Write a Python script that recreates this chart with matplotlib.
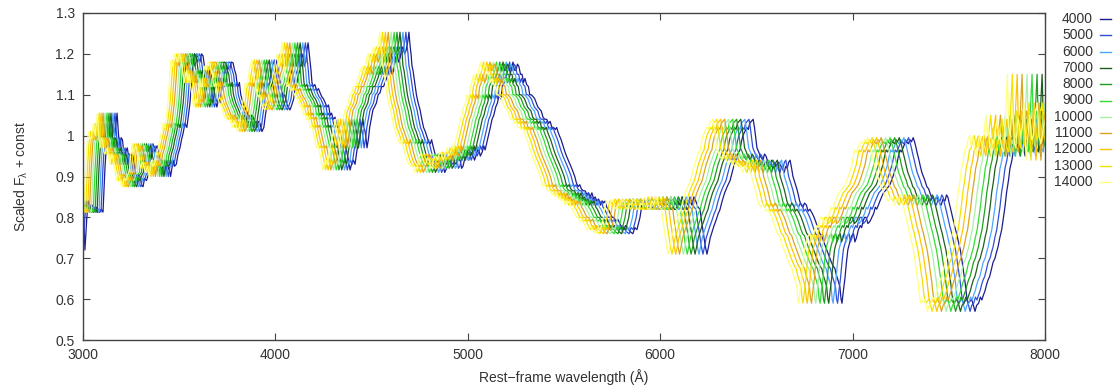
import numpy as np
import matplotlib
matplotlib.use("Agg")
import matplotlib.pyplot as plt
from matplotlib.lines import Line2D

plt.rcParams['font.family'] = ['Liberation Sans', 'DejaVu Sans']
plt.rcParams['mathtext.default'] = 'regular'

# Template spectrum (as drawn for the 4000 km/s curve)
template_wl = [
    3000, 3010, 3020, 3028, 3036, 3048, 3060, 3072, 3085, 3095,
    3104, 3114, 3122, 3130, 3138, 3145, 3156, 3165, 3177, 3185,
    3192, 3198, 3205, 3212, 3218, 3230, 3244, 3252, 3260, 3270,
    3280, 3288, 3296, 3304, 3312, 3320, 3330, 3340, 3348, 3356,
    3364, 3370, 3375, 3385, 3395, 3410, 3418, 3425, 3432, 3437,
    3446, 3455, 3462, 3468, 3476, 3485, 3494, 3504, 3512, 3520,
    3530, 3540, 3548, 3556, 3564, 3572, 3582, 3592, 3600, 3608,
    3616, 3624, 3634, 3644, 3650, 3657, 3663, 3670, 3678, 3685,
    3690, 3696, 3704, 3712, 3720, 3728, 3734, 3740, 3747, 3754,
    3762, 3770, 3780, 3788, 3795, 3800, 3806, 3813, 3820, 3826,
    3832, 3841, 3850, 3858, 3868, 3876, 3885, 3895, 3904, 3912,
    3920, 3930, 3940, 3948, 3955, 3963, 3972, 3980, 3990, 3998,
    4008, 4016, 4025, 4032, 4040, 4048, 4058, 4066, 4076, 4085,
    4095, 4103, 4112, 4120, 4128, 4136, 4144, 4150, 4158, 4164,
    4170, 4178, 4185, 4190, 4196, 4205, 4215, 4224, 4232, 4241,
    4250, 4259, 4268, 4276, 4285, 4292, 4300, 4310, 4320, 4328,
    4336, 4345, 4355, 4364, 4372, 4380, 4388, 4396, 4405, 4414,
    4424, 4432, 4440, 4448, 4455, 4460, 4466, 4472, 4476, 4483,
    4490, 4498, 4507, 4515, 4525, 4534, 4544, 4552, 4562, 4570,
    4580, 4590, 4600, 4607, 4615, 4624, 4632, 4640, 4648, 4656,
    4663, 4672, 4680, 4688, 4694, 4700, 4705, 4710, 4715, 4724,
    4733, 4742, 4752, 4761, 4770, 4779, 4788, 4796, 4805, 4812,
    4819, 4830, 4840, 4850, 4860, 4870, 4880, 4890, 4900, 4910,
    4920, 4930, 4940, 4950, 4960, 4968, 4975, 4985, 4995, 5005,
    5015, 5025, 5035, 5045, 5055, 5065, 5075, 5083, 5090, 5100,
    5108, 5117, 5126, 5135, 5145, 5154, 5163, 5172, 5180, 5189,
    5198, 5206, 5215, 5225, 5235, 5242, 5250, 5258, 5265, 5274,
    5282, 5290, 5297, 5306, 5315, 5322, 5330, 5340, 5348, 5356,
    5364, 5373, 5382, 5391, 5400, 5410, 5420, 5428, 5437, 5446,
    5455, 5462, 5468, 5476, 5485, 5495, 5505, 5513, 5522, 5531,
    5540, 5548, 5556, 5564, 5573, 5582, 5590, 5600, 5610, 5620,
    5628, 5636, 5645, 5654, 5662, 5671, 5680, 5690, 5700, 5706,
    5713, 5722, 5730, 5740, 5750, 5760, 5770, 5780, 5790, 5800,
    5810, 5820, 5830, 5844, 5858, 5868, 5879, 5887, 5895, 5903,
    5910, 5920, 5930, 5938, 5947, 5956, 5965, 5975, 5985, 5995,
    6005, 6015, 6025, 6035, 6045, 6055, 6065, 6075, 6085, 6095,
    6105, 6115, 6125, 6135, 6145, 6155, 6165, 6175, 6185, 6196,
    6207, 6215, 6225, 6234, 6243, 6252, 6260, 6270, 6280, 6288,
    6295, 6302, 6310, 6322, 6335, 6348, 6363, 6374, 6385, 6393,
    6400, 6408, 6415, 6422, 6430, 6440, 6450, 6458, 6465, 6474,
    6483, 6490, 6495, 6503, 6512, 6520, 6527, 6534, 6542, 6550,
    6560, 6570, 6580, 6590, 6600, 6610, 6616, 6623, 6634, 6645,
    6652, 6660, 6668, 6675, 6683, 6690, 6700, 6710, 6718, 6725,
    6733, 6742, 6750, 6760, 6769, 6778, 6790, 6800, 6808, 6815,
    6822, 6830, 6840, 6850, 6858, 6866, 6874, 6882, 6890, 6900,
    6908, 6915, 6925, 6934, 6940, 6945, 6952, 6960, 6968, 6975,
    6980, 6986, 6995, 7005, 7012, 7020, 7030, 7040, 7047, 7054,
    7062, 7070, 7080, 7090, 7100, 7110, 7118, 7125, 7134, 7142,
    7151, 7160, 7170, 7178, 7186, 7194, 7202, 7210, 7220, 7230,
    7238, 7246, 7254, 7262, 7271, 7280, 7290, 7298, 7306, 7315,
    7322, 7330, 7337, 7345, 7352, 7360, 7368, 7376, 7386, 7395,
    7402, 7410, 7420, 7428, 7436, 7445, 7452, 7460, 7470, 7480,
    7488, 7495, 7502, 7510, 7520, 7532, 7541, 7550, 7560, 7568,
    7576, 7585, 7592, 7600, 7610, 7618, 7628, 7636, 7645, 7655,
    7664, 7672, 7680, 7688, 7696, 7704, 7712, 7720, 7730, 7740,
    7748, 7756, 7765, 7775, 7784, 7792, 7800, 7810, 7818, 7828,
    7836, 7845, 7853, 7862, 7870, 7880, 7888, 7897, 7906, 7915,
    7924, 7932, 7940, 7950, 7957, 7963, 7970, 7978, 7984, 7990,
    8000, 8010, 8018, 8025, 8035, 8045, 8055, 8065, 8072, 8080,
    8088, 8095, 8103, 8110, 8118, 8125, 8135, 8145, 8155, 8165,
    8175, 8185, 8195, 8205, 8215, 8225, 8235, 8245, 8258, 8270,
]
template_flux = [
    0.86, 0.72, 0.80, 0.84, 0.826, 0.83, 0.815, 0.825, 0.812, 0.82,
    0.813, 0.92, 0.98, 1.01, 0.99, 0.995, 1.03, 1.00, 1.055, 1.00,
    0.97, 0.995, 0.99, 0.96, 0.955, 0.97, 0.93, 0.955, 0.95, 0.92,
    0.89, 0.905, 0.90, 0.88, 0.875, 0.895, 0.89, 0.905, 0.91, 0.95,
    0.98, 0.96, 0.965, 0.975, 0.95, 0.92, 0.935, 0.93, 0.915, 0.91,
    0.925, 0.90, 0.92, 0.94, 0.925, 0.93, 0.955, 0.97, 0.99, 1.005,
    1.03, 1.02, 1.05, 1.08, 1.13, 1.185, 1.17, 1.20, 1.19, 1.18,
    1.20, 1.195, 1.16, 1.13, 1.15, 1.16, 1.13, 1.15, 1.12, 1.10,
    1.08, 1.07, 1.09, 1.08, 1.11, 1.14, 1.12, 1.12, 1.15, 1.17,
    1.16, 1.18, 1.178, 1.16, 1.15, 1.13, 1.12, 1.13, 1.10, 1.09,
    1.08, 1.07, 1.06, 1.05, 1.04, 1.05, 1.045, 1.03, 1.02, 1.035,
    1.03, 1.01, 1.02, 1.05, 1.07, 1.10, 1.13, 1.12, 1.15, 1.17,
    1.185, 1.15, 1.13, 1.11, 1.095, 1.10, 1.08, 1.07, 1.063, 1.075,
    1.09, 1.12, 1.13, 1.15, 1.16, 1.19, 1.20, 1.17, 1.18, 1.21,
    1.227, 1.19, 1.16, 1.13, 1.12, 1.125, 1.11, 1.115, 1.105, 1.095,
    1.09, 1.08, 1.07, 1.075, 1.05, 1.055, 1.04, 1.045, 1.02, 1.025,
    1.01, 0.99, 0.97, 0.975, 0.957, 0.94, 0.916, 0.93, 0.94, 0.93,
    0.965, 0.98, 1.00, 1.02, 1.04, 1.02, 1.01, 0.99, 0.97, 0.99,
    1.02, 1.04, 1.063, 1.07, 1.08, 1.10, 1.105, 1.12, 1.12, 1.13,
    1.143, 1.16, 1.17, 1.15, 1.16, 1.19, 1.20, 1.18, 1.19, 1.21,
    1.217, 1.20, 1.21, 1.23, 1.253, 1.22, 1.20, 1.17, 1.16, 1.13,
    1.10, 1.08, 1.063, 1.04, 1.02, 1.01, 0.997, 0.985, 0.98, 0.99,
    0.975, 0.955, 0.94, 0.93, 0.925, 0.93, 0.91, 0.92, 0.93, 0.955,
    0.95, 0.935, 0.93, 0.945, 0.94, 0.92, 0.925, 0.945, 0.95, 0.94,
    0.96, 0.955, 0.94, 0.955, 0.97, 0.95, 0.96, 0.975, 0.965, 0.985,
    1.00, 1.02, 1.04, 1.05, 1.07, 1.08, 1.10, 1.09, 1.12, 1.13,
    1.15, 1.13, 1.14, 1.16, 1.18, 1.16, 1.16, 1.175, 1.17, 1.15,
    1.15, 1.13, 1.14, 1.125, 1.12, 1.10, 1.10, 1.095, 1.09, 1.08,
    1.07, 1.065, 1.06, 1.045, 1.04, 1.04, 1.03, 1.035, 1.02, 1.02,
    1.015, 1.02, 1.01, 1.00, 0.99, 0.975, 0.96, 0.95, 0.94, 0.93,
    0.92, 0.91, 0.90, 0.885, 0.875, 0.88, 0.87, 0.865, 0.865, 0.855,
    0.86, 0.85, 0.86, 0.845, 0.85, 0.84, 0.845, 0.83, 0.84, 0.835,
    0.84, 0.825, 0.82, 0.81, 0.80, 0.80, 0.79, 0.795, 0.785, 0.775,
    0.77, 0.78, 0.775, 0.765, 0.76, 0.775, 0.77, 0.785, 0.80, 0.825,
    0.84, 0.835, 0.83, 0.845, 0.84, 0.825, 0.82, 0.835, 0.83, 0.845,
    0.84, 0.825, 0.82, 0.835, 0.83, 0.845, 0.84, 0.82, 0.82, 0.835,
    0.83, 0.85, 0.84, 0.82, 0.82, 0.84, 0.83, 0.85, 0.84, 0.825,
    0.82, 0.79, 0.76, 0.73, 0.71, 0.73, 0.75, 0.765, 0.78, 0.79,
    0.80, 0.81, 0.818, 0.84, 0.86, 0.875, 0.89, 0.91, 0.93, 0.94,
    0.95, 0.96, 0.965, 0.985, 1.00, 1.01, 1.02, 1.015, 1.03, 1.035,
    1.04, 1.02, 1.00, 0.97, 0.96, 0.95, 0.945, 0.94, 0.955, 0.95,
    0.935, 0.93, 0.94, 0.935, 0.925, 0.93, 0.935, 0.93, 0.92, 0.91,
    0.925, 0.92, 0.935, 0.94, 0.92, 0.90, 0.885, 0.87, 0.855, 0.84,
    0.83, 0.825, 0.835, 0.83, 0.815, 0.82, 0.81, 0.80, 0.79, 0.78,
    0.77, 0.76, 0.755, 0.74, 0.73, 0.72, 0.71, 0.70, 0.69, 0.68,
    0.675, 0.66, 0.645, 0.63, 0.60, 0.59, 0.62, 0.65, 0.69, 0.72,
    0.73, 0.74, 0.755, 0.76, 0.74, 0.75, 0.77, 0.78, 0.775, 0.79,
    0.80, 0.80, 0.785, 0.79, 0.80, 0.81, 0.825, 0.82, 0.83, 0.84,
    0.85, 0.86, 0.865, 0.87, 0.875, 0.88, 0.89, 0.90, 0.915, 0.93,
    0.95, 0.965, 0.96, 0.97, 0.98, 0.985, 0.98, 0.99, 0.985, 0.995,
    0.985, 0.97, 0.955, 0.94, 0.925, 0.91, 0.90, 0.89, 0.875, 0.87,
    0.86, 0.85, 0.845, 0.84, 0.85, 0.845, 0.835, 0.83, 0.845, 0.84,
    0.855, 0.85, 0.835, 0.82, 0.80, 0.775, 0.76, 0.74, 0.72, 0.696,
    0.67, 0.64, 0.61, 0.59, 0.595, 0.60, 0.585, 0.57, 0.585, 0.59,
    0.605, 0.598, 0.61, 0.62, 0.635, 0.647, 0.655, 0.67, 0.69, 0.70,
    0.715, 0.728, 0.75, 0.77, 0.80, 0.826, 0.86, 0.89, 0.92, 0.94,
    0.965, 0.97, 0.99, 1.00, 0.975, 0.997, 0.97, 0.95, 0.98, 1.00,
    0.985, 0.97, 1.01, 1.05, 1.00, 1.02, 0.98, 0.95, 0.99, 0.98,
    1.01, 1.04, 0.99, 1.00, 0.97, 0.96, 1.05, 1.15, 1.02, 1.00,
    1.06, 1.05, 0.98, 0.97, 1.03, 1.04, 1.00, 1.02, 1.08, 0.94,
    1.00, 1.05, 0.99, 1.00, 1.06, 1.08, 1.00, 0.98, 1.02, 1.04,
]

velocities = [4000, 5000, 6000, 7000, 8000, 9000, 10000, 11000, 12000, 13000, 14000]
labels = [str(v) for v in velocities]
colors = ['#1c1c8e', '#2f4fd8', '#4da6ff', '#1e5e1e', '#1f9e1f', '#33dd33',
          '#a8f0a8', '#daa520', '#ffc400', '#f2e200', '#ffff80']

C_KMS = 299792.458
REF_V = 4000

W, H = 1114, 392
fig = plt.figure(figsize=(W / 100, H / 100), dpi=100)
ax = fig.add_axes([83 / W, 1 - 340 / H, (1045 - 83) / W, (340 - 13) / H])

wl = np.array(template_wl, dtype=float)
fl = np.array(template_flux, dtype=float)
for v, c in zip(velocities, colors):
    factor = 1.0 + (v - REF_V) / C_KMS
    ax.plot(wl / factor, fl, color=c, lw=0.9)

ax.set_xlim(3000, 8000)
ax.set_ylim(0.5, 1.3)
ax.set_xticks([3000, 4000, 5000, 6000, 7000, 8000])
ax.set_yticks([0.5, 0.6, 0.7, 0.8, 0.9, 1.0, 1.1, 1.2, 1.3])
ax.yaxis.set_major_formatter(matplotlib.ticker.FormatStrFormatter('%g'))
ax.tick_params(direction='in', length=5, width=0.8, top=True, right=True,
               labelsize=10, colors='#444444', labelcolor='#333333', pad=6)
for s in ax.spines.values():
    s.set_color('#444444')
    s.set_linewidth(1.0)

ax.set_xlabel('Rest\u2212frame wavelength (\u00c5)', fontsize=10, color='#333333', labelpad=5)
ax.set_ylabel('Scaled F$_{\u03bb}$ + const', fontsize=10, color='#333333', labelpad=18)

# Legend (right-aligned labels with short line samples, outside plot)
y0, dy = 19, 16.3
for i, (lab, c) in enumerate(zip(labels, colors)):
    ypx = y0 + i * dy
    fig.text(1093 / W, 1 - ypx / H, lab, ha='right', va='center', fontsize=10, color='#333333')
    fig.add_artist(Line2D([1100 / W, 1111 / W], [1 - ypx / H, 1 - ypx / H], color=c, lw=1.0))

fig.savefig('out.png', dpi=100)
